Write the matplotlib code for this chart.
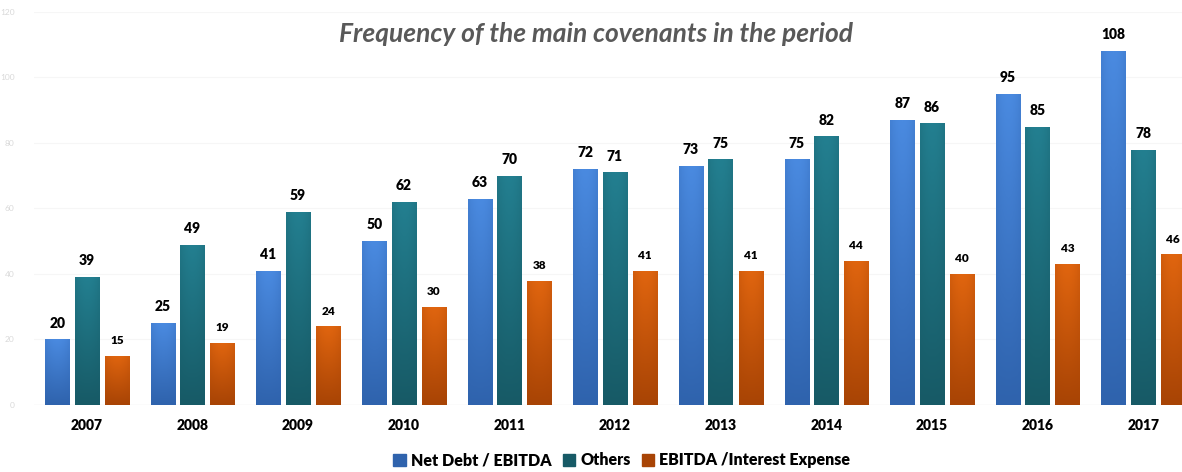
import matplotlib.pyplot as plt
import matplotlib.colors as mcolors
import numpy as np

years = ['2007', '2008', '2009', '2010', '2011', '2012', '2013', '2014', '2015', '2016', '2017']
net_debt = [20, 25, 41, 50, 63, 72, 73, 75, 87, 95, 108]
others = [39, 49, 59, 62, 70, 71, 75, 82, 86, 85, 78]
ebitda_int = [15, 19, 24, 30, 38, 41, 41, 44, 40, 43, 46]
series_names = ['Net Debt / EBITDA', 'Others', 'EBITDA /Interest Expense']

plt.rcParams['font.family'] = ['Lato', 'DejaVu Sans']

fig = plt.figure(figsize=(11.82, 4.72), dpi=100)
ax = fig.add_axes([0.0288, 0.142, 0.983, 0.8326])

x = np.arange(len(years))
width = 0.23
offsets = [-0.28, 0.0, 0.285]
# (top colour, bottom colour)
colours = [('#4a8ae0', '#2f63ad'), ('#237f90', '#175a66'), ('#e0650f', '#a84405')]
series = [net_debt, others, ebitda_int]
label_sizes = [10, 10, 8.5]

def gradient_bar(rect, c_top, c_bot):
    cmap = mcolors.LinearSegmentedColormap.from_list('g', [c_bot, c_top])
    x0, y0 = rect.get_x(), rect.get_y()
    w, h = rect.get_width(), rect.get_height()
    grad = np.linspace(0, 1, 64).reshape(-1, 1)
    # a bit darker at the sides
    horiz = 1 - 0.25 * np.abs(np.linspace(-1, 1, 16)) ** 2
    img = cmap(grad * horiz[None, :])
    im = ax.imshow(img, extent=[x0, x0 + w, y0, y0 + h], origin='lower',
                   aspect='auto', zorder=3)
    im.set_clip_path(rect)

for vals, off, (ct, cb), fs, name in zip(series, offsets, colours, label_sizes, series_names):
    bars = ax.bar(x + off, vals, width, color=cb, label=name, zorder=2, edgecolor='none')
    for rect, v in zip(bars, vals):
        gradient_bar(rect, ct, cb)
        ax.text(rect.get_x() + rect.get_width() / 2, v + 3, str(v), ha='center', va='bottom',
                fontsize=fs, fontweight='heavy', color='black', zorder=4)

ax.set_xlim(-0.5, len(years) - 0.5)
ax.set_ylim(0, 120)
ax.set_yticks(range(0, 121, 20))
ax.tick_params(axis='y', labelsize=6, colors='#d9d9d9', length=0, pad=14)
ax.set_xticks(x)
ax.set_xticklabels(years, fontsize=10, fontweight='heavy')
ax.tick_params(axis='x', length=0, pad=10)
ax.grid(axis='y', color='#f6f6f6', linewidth=0.8, zorder=0)
for s in ax.spines.values():
    s.set_visible(False)
ax.axhline(0, color='#f0f0f0', linewidth=1, zorder=1)

fig.text(0.504, 0.927, 'Frequency of the main covenants in the period', ha='center', va='center',
         fontsize=19, fontweight='bold', fontstyle='italic', color='#595959')

handles = [plt.Rectangle((0, 0), 1, 1, color=cb) for _, cb in colours]
fig.legend(handles, series_names, loc='center', bbox_to_anchor=(0.526, 0.025), ncol=3, frameon=False,
           prop={'size': 11.5, 'weight': 'heavy'}, handlelength=0.8, handleheight=0.8,
           handletextpad=0.3, columnspacing=0.7)

fig.savefig('out.png', dpi=100)
